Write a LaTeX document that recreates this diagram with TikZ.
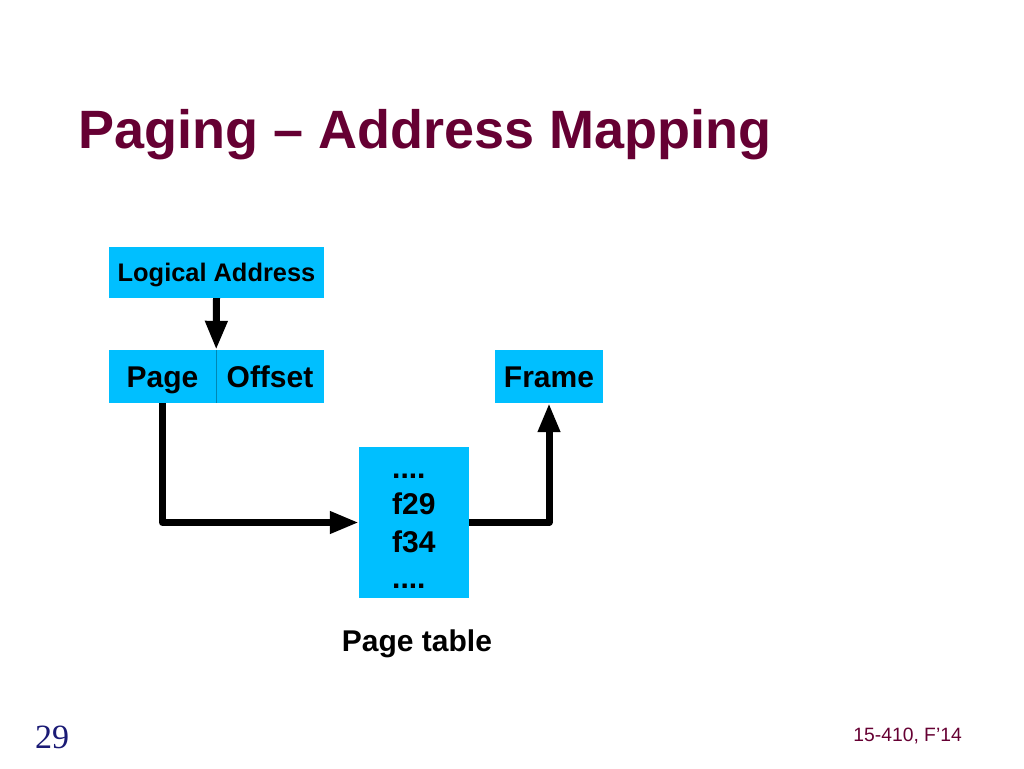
\documentclass[tikz,border=0pt]{standalone}
\usepackage{fontspec}
\setmainfont{Liberation Sans}
\newfontfamily\timesf{Liberation Serif}
\usetikzlibrary{arrows.meta}
\definecolor{titlered}{HTML}{660033}
\definecolor{boxblue}{HTML}{00BFFF}
\definecolor{numblue}{HTML}{1A1A75}
\tikzset{
  bluebox/.style={fill=boxblue, draw=none, inner sep=0pt, minimum height=53pt, text height=21.5pt, text depth=0pt, font=\bfseries\fontsize{30}{32}\selectfont},
  conn/.style={line width=7pt, line join=round, -{Triangle[length=29pt,width=21pt]}},
  tabtxt/.style={inner sep=0pt, anchor=base west, font=\bfseries\fontsize{30}{32}\selectfont},
  txt/.style={inner sep=0pt}
}
\begin{document}
\begin{tikzpicture}[x=1pt,y=-1pt]
\useasboundingbox[fill=white] (0,0) rectangle (1024,768);
\node[txt, anchor=base west, text=titlered, font=\bfseries\fontsize{54}{56}\selectfont] (title) at (78,148) {Paging -- Address Mapping};
% boxes
\node[bluebox, minimum width=215pt, minimum height=51pt, text height=18.2pt, font=\bfseries\fontsize{25.4}{28}\selectfont] (la) at (216.5,272.5) {Logical Address};
\node[bluebox, minimum width=107pt] (page) at (162.5,376.5) {Page};
\node[bluebox, minimum width=108pt] (offset) at (270,376.5) {Offset};
\draw[draw=boxblue!70!black, line width=0.8pt] (page.north east) -- (page.south east);
\node[bluebox, minimum width=108pt] (frame) at (549,376.5) {Frame};
\node[bluebox, minimum width=110pt, minimum height=151pt] (pt) at (414,522.5) {};
\node[tabtxt] (d1) at (392,478) {....};
\node[tabtxt] (f29) at (392,514) {f29};
\node[tabtxt] (f34) at (392,552) {f34};
\node[tabtxt] (d2) at (392,588) {....};
\node[txt, anchor=base, font=\bfseries\fontsize{30}{32}\selectfont] (ptl) at (417,651) {Page table};
% connectors
\draw[conn] (la.south) -- (page.north east);
\draw[conn] (page.south) |- (pt.west);
\draw[conn] (pt.east) -| (frame.south);
% footer
\node[txt, anchor=base west, text=numblue, font=\timesf\fontsize{34}{36}\selectfont] (num) at (35,748) {29};
\node[txt, anchor=base east, text=titlered, font=\fontsize{19.3}{22}\selectfont] (foot) at (962,741) {15-410, F’14};
\end{tikzpicture}
\end{document}
